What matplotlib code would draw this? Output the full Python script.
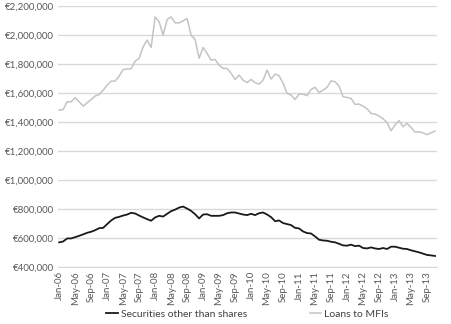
import numpy as np
import pandas as pd
import matplotlib
matplotlib.use("Agg")
import matplotlib.pyplot as plt
from matplotlib.ticker import FuncFormatter

# monthly data, Jan-06 .. Nov-13 (EUR)
months = pd.date_range("2006-01-01", periods=95, freq="MS")

securities = [
    570, 576, 597, 597, 606, 615, 625, 636, 643, 654, 668, 670,
    696, 721, 739, 746, 755, 762, 774, 769, 755, 742, 730, 719,
    742, 753, 748, 767, 785, 796, 810, 817, 803, 787, 764, 735,
    762, 764, 753, 753, 753, 758, 771, 776, 776, 769, 762, 758,
    767, 758, 771, 776, 762, 744, 716, 721, 703, 696, 689, 670,
    666, 645, 634, 631, 611, 588, 583, 581, 574, 570, 560, 549,
    547, 554, 544, 547, 531, 528, 535, 528, 524, 531, 524, 540,
    540, 533, 526, 524, 515, 508, 501, 492, 483, 480, 476,
]

loans_mfi = [
    1483, 1487, 1540, 1540, 1568, 1540, 1510, 1533, 1556, 1580, 1590, 1620,
    1655, 1683, 1683, 1717, 1763, 1766, 1768, 1820, 1840, 1920, 1966, 1915,
    2126, 2092, 2000, 2108, 2126, 2085, 2085, 2099, 2115, 2000, 1970, 1840,
    1915, 1874, 1828, 1832, 1793, 1770, 1770, 1736, 1694, 1724, 1690, 1672,
    1694, 1672, 1662, 1690, 1759, 1697, 1731, 1720, 1667, 1598, 1586, 1556,
    1593, 1593, 1582, 1625, 1640, 1604, 1620, 1640, 1685, 1678, 1648, 1575,
    1570, 1563, 1522, 1524, 1510, 1492, 1460, 1455, 1442, 1423, 1396, 1340,
    1380, 1410, 1368, 1391, 1363, 1331, 1333, 1326, 1313, 1326, 1338,
]

securities = np.array(securities) * 1000
loans_mfi = np.array(loans_mfi) * 1000
tick_labels = [d.strftime("%b-%y") for d in months]

plt.rcParams["font.family"] = ["Lato", "DejaVu Sans"]

fig = plt.figure(figsize=(4.51, 3.24), dpi=100)
ax = fig.add_axes([0.129, 0.176, 0.84, 0.805])

x = np.arange(len(months))
ax.plot(x, securities, color="#1a1a1a", lw=1.3, label="Securities other than shares")
ax.plot(x, loans_mfi, color="#c4c4c4", lw=1.1, label="Loans to MFIs")

ax.set_ylim(400000, 2200000)
ax.set_yticks(np.arange(400000, 2200001, 200000))
ax.yaxis.set_major_formatter(FuncFormatter(lambda v, p: "\u20ac{:,.0f}".format(v)))
ax.set_xlim(-0.25, len(months) - 0.5)
ax.set_xticks(x[::4])
ax.set_xticklabels(tick_labels[::4], rotation=90)

ax.grid(axis="y", color="#d9d9d9", lw=1)
ax.set_axisbelow(True)
for s in ["top", "right", "left"]:
    ax.spines[s].set_visible(False)
ax.spines["bottom"].set_color("#d9d9d9")
ax.tick_params(length=0, labelsize=7, colors="#595959", pad=3)

ax.legend(loc="center", bbox_to_anchor=(0.5, -0.182), ncol=2, frameon=False,
          fontsize=7.5, handlelength=1.1, handletextpad=0.3, columnspacing=6,
          labelcolor="#404040")

fig.savefig("out.png", dpi=100)
